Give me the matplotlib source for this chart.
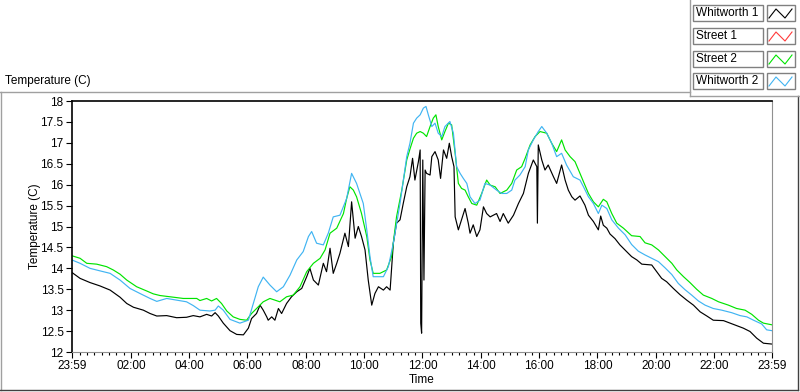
import numpy as np
import matplotlib
matplotlib.use('Agg')
import matplotlib.pyplot as plt
from matplotlib.lines import Line2D
from matplotlib.patches import Rectangle

plt.rcParams['font.family'] = ['Liberation Sans', 'DejaVu Sans']

W, H = 800, 392

series_names = ['Whitworth 1', 'Street 1', 'Street 2', 'Whitworth 2']
series_colors = ['#000000', '#ff3a3a', '#00e400', '#40b4f2']

# times are hours after midnight, the trace starts at 23:59 (-1 min)
whitworth1_t = [-0.017, 0.26, 0.60, 0.94, 1.29, 1.63, 1.86, 2.09, 2.43, 2.66, 2.89, 3.23, 3.57, 3.91,
                4.14, 4.37, 4.60, 4.77, 4.89, 5.00, 5.17, 5.40, 5.63,
                5.86, 6.03, 6.14, 6.31, 6.43, 6.54, 6.66, 6.71, 6.83, 6.94, 7.06, 7.17, 7.34, 7.51,
                7.69, 7.86, 8.03, 8.14, 8.26, 8.43, 8.60, 8.71, 8.83, 8.94, 9.06, 9.17, 9.34, 9.46,
                9.57, 9.69, 9.80, 9.91, 10.03, 10.14, 10.26, 10.37, 10.49, 10.66, 10.77, 10.89,
                11.00, 11.11, 11.23,
                11.34, 11.46, 11.57, 11.66, 11.74, 11.86, 11.92, 11.94, 11.97, 12.01, 12.05, 12.09,
                12.14, 12.26, 12.32, 12.43, 12.54, 12.62, 12.72, 12.83, 12.92, 13.00, 13.08, 13.12,
                13.23, 13.34, 13.46, 13.57, 13.63, 13.74, 13.86, 13.97, 14.09, 14.20, 14.32, 14.54,
                14.66, 14.77, 14.94, 15.12, 15.29, 15.46, 15.63, 15.80, 15.92, 15.94, 15.97, 16.09,
                16.20, 16.31, 16.49, 16.60, 16.77, 16.89, 17.00, 17.12, 17.23, 17.40,
                17.57, 17.69, 17.86, 18.03, 18.11, 18.20, 18.32, 18.43, 18.60, 18.77, 19.00, 19.17,
                19.35, 19.52, 19.86, 20.03, 20.20, 20.37, 20.60, 20.83, 21.06, 21.29, 21.52, 21.75,
                21.97, 22.32, 22.55, 22.77, 23.00, 23.23, 23.46, 23.69, 23.98]
whitworth1_c = [13.90, 13.76, 13.66, 13.58, 13.48, 13.31, 13.16, 13.07, 13.00, 12.92, 12.86, 12.87, 12.82, 12.83,
                12.87, 12.84, 12.90, 12.86, 12.94, 12.86, 12.69, 12.51, 12.42,
                12.41, 12.57, 12.80, 12.92, 13.12, 13.00, 12.84, 12.76, 12.84, 12.76, 13.04, 12.92, 13.16, 13.32,
                13.44, 13.52, 13.80, 14.00, 13.72, 13.60, 14.12, 13.92, 14.48, 13.88, 14.12, 14.36, 14.84, 14.52,
                15.59, 14.72, 15.00, 14.76, 14.44, 13.72, 13.12, 13.40, 13.56, 13.48, 13.56, 13.48,
                14.60, 15.08, 15.16,
                15.55, 15.95, 16.19, 16.63, 16.11, 16.55, 16.83, 12.69, 12.45, 16.59, 13.72, 16.35,
                16.27, 16.23, 16.67, 16.79, 16.59, 16.15, 16.83, 16.63, 16.99, 16.67, 16.43, 15.23,
                14.92, 15.16, 15.43, 15.08, 14.84, 15.04, 14.76, 14.92, 15.47, 15.31, 15.23, 15.31,
                15.12, 15.31, 15.08, 15.27, 15.55, 15.79, 16.27, 16.59, 16.43, 15.08, 16.95, 16.59,
                16.35, 16.47, 16.19, 16.03, 16.47, 16.11, 15.87, 15.71, 15.63, 15.73,
                15.51, 15.27, 15.12, 14.92, 15.25, 15.03, 14.96, 14.82, 14.71, 14.56, 14.40, 14.28,
                14.20, 14.10, 14.08, 13.92, 13.76, 13.68, 13.52, 13.37, 13.24, 13.12, 12.96, 12.86,
                12.76, 12.75, 12.69, 12.63, 12.57, 12.49, 12.33, 12.21, 12.19]

# Street 1 shows in the legend but no trace is visible
street1_t = []
street1_c = []

street2_t = [-0.017, 0.26, 0.49, 0.83, 1.17, 1.40, 1.63, 1.86, 2.20, 2.54, 2.77, 3.00, 3.46, 3.80,
             4.26, 4.37, 4.60, 4.77, 4.94, 5.11, 5.29, 5.51, 5.74,
             5.97, 6.14, 6.54, 6.77, 7.11, 7.34, 7.57, 7.80, 8.03, 8.26, 8.49, 8.66, 8.83, 9.06,
             9.29, 9.40, 9.51, 9.63, 9.74, 9.91, 10.09, 10.20, 10.31, 10.54, 10.77, 10.94, 11.11,
             11.29, 11.46,
             11.57, 11.69, 11.80, 11.92, 12.03, 12.14, 12.26, 12.37, 12.46, 12.54, 12.66, 12.77,
             12.89, 13.00, 13.12, 13.23, 13.34, 13.46, 13.57, 13.69, 13.86, 14.03, 14.20, 14.32,
             14.49, 14.66, 14.89, 15.06, 15.23, 15.40, 15.52, 15.69, 15.86, 16.03, 16.26, 16.43,
             16.60, 16.77, 16.89, 17.06, 17.23, 17.40,
             17.52, 17.69, 17.86, 18.03, 18.20, 18.32, 18.49, 18.66, 18.89, 19.17, 19.46, 19.63,
             19.86, 20.09, 20.32, 20.55, 20.72, 20.95, 21.17, 21.40, 21.63, 21.92, 22.15, 22.49,
             22.77, 23.06, 23.29, 23.52, 23.69, 23.98]
street2_c = [14.30, 14.24, 14.12, 14.10, 14.04, 13.96, 13.86, 13.72, 13.56, 13.46, 13.39, 13.35, 13.31, 13.28,
             13.28, 13.23, 13.28, 13.22, 13.28, 13.16, 12.98, 12.84, 12.78,
             12.76, 12.92, 13.20, 13.28, 13.20, 13.32, 13.36, 13.56, 13.92, 14.12, 14.24, 14.44, 14.84, 14.96,
             15.31, 15.67, 15.95, 15.87, 15.71, 15.31, 14.76, 14.20, 13.88, 13.88, 13.96, 14.28, 15.23,
             15.87, 16.59,
             16.85, 17.11, 17.23, 17.27, 17.23, 17.15, 17.39, 17.59, 17.67, 17.39, 17.07, 17.27,
             17.47, 17.43, 16.75, 16.03, 15.91, 15.87, 15.71, 15.55, 15.51, 15.79, 16.11, 15.99,
             15.95, 15.79, 15.87, 16.03, 16.35, 16.43, 16.63, 16.95, 17.15, 17.27, 17.23, 16.99,
             16.79, 17.07, 16.83, 16.67, 16.55, 16.27,
             16.07, 15.79, 15.59, 15.47, 15.65, 15.59, 15.31, 15.08, 14.96, 14.78, 14.76, 14.61,
             14.56, 14.44, 14.28, 14.12, 13.96, 13.80, 13.66, 13.50, 13.36, 13.28, 13.20, 13.12,
             13.04, 13.00, 12.90, 12.76, 12.69, 12.65]

whitworth2_t = [-0.017, 0.26, 0.60, 0.94, 1.29, 1.63, 1.97, 2.31, 2.66, 2.89, 3.23, 3.57, 3.91, 4.14,
                4.37, 4.71, 4.89, 5.00, 5.17, 5.40, 5.74,
                6.03, 6.20, 6.37, 6.54, 6.77, 7.00, 7.23, 7.46, 7.69, 7.91, 8.09, 8.20, 8.37, 8.60,
                8.77, 8.94, 9.17, 9.40, 9.57, 9.74, 9.97, 10.09, 10.20, 10.31, 10.66, 10.83, 11.00,
                11.23, 11.46, 11.57,
                11.69, 11.80, 11.92, 12.03, 12.12, 12.20, 12.32, 12.43, 12.54, 12.66, 12.77, 12.94,
                13.06, 13.17, 13.29, 13.40, 13.52, 13.63, 13.80, 13.97, 14.14, 14.32, 14.54, 14.72,
                14.89, 15.06, 15.17, 15.34, 15.52, 15.63, 15.80, 15.97, 16.09, 16.26, 16.43, 16.60,
                16.77, 16.94, 17.17, 17.40,
                17.52, 17.69, 17.86, 18.03, 18.15, 18.32, 18.49, 18.72, 18.95, 19.17, 19.40, 19.63,
                19.86, 20.09, 20.32, 20.55, 20.77, 21.00, 21.23, 21.46, 21.69, 21.97, 22.26, 22.60,
                22.89, 23.12, 23.35, 23.63, 23.80, 23.98]
whitworth2_c = [14.20, 14.12, 14.00, 13.94, 13.88, 13.72, 13.52, 13.40, 13.28, 13.21, 13.28, 13.24, 13.20, 13.11,
                13.00, 12.98, 13.00, 13.10, 13.00, 12.78, 12.69,
                12.76, 13.16, 13.56, 13.79, 13.60, 13.44, 13.56, 13.84, 14.20, 14.40, 14.76, 14.88, 14.60, 14.56,
                14.84, 15.23, 15.27, 15.67, 16.27, 16.03, 15.55, 14.92, 14.28, 13.80, 13.80, 14.04, 14.60,
                15.55, 16.67, 16.99,
                17.47, 17.59, 17.67, 17.83, 17.87, 17.67, 17.39, 17.47, 17.23, 17.15, 17.39, 17.51,
                17.23, 16.43, 16.27, 16.15, 16.03, 15.71, 15.55, 15.63, 16.03, 15.99, 15.87, 15.79,
                15.79, 15.87, 16.11, 16.23, 16.43, 16.83, 17.07, 17.27, 17.39, 17.23, 16.99, 16.67,
                16.75, 16.47, 16.19, 16.11,
                15.95, 15.71, 15.55, 15.31, 15.51, 15.43, 15.16, 14.96, 14.80, 14.57, 14.41, 14.32,
                14.24, 14.16, 14.01, 13.85, 13.64, 13.49, 13.36, 13.22, 13.12, 13.04, 13.00, 12.94,
                12.87, 12.84, 12.76, 12.67, 12.53, 12.51]

series_t = [whitworth1_t, street1_t, street2_t, whitworth2_t]
series_c = [whitworth1_c, street1_c, street2_c, whitworth2_c]

x_ticks = [-1 / 60, 2, 4, 6, 8, 10, 12, 14, 16, 18, 20, 22, 24 - 1 / 60]
x_labels = ['23:59', '02:00', '04:00', '06:00', '08:00', '10:00', '12:00',
            '14:00', '16:00', '18:00', '20:00', '22:00', '23:59']
y_ticks = [12, 12.5, 13, 13.5, 14, 14.5, 15, 15.5, 16, 16.5, 17, 17.5, 18]


def px(x, y):
    return x / W, 1 - y / H


fig = plt.figure(figsize=(W / 100, H / 100), dpi=100, facecolor='white')
ax = fig.add_axes([72 / W, 1 - 352 / H, 700 / W, 251 / H])

for t, c, col in zip(series_t, series_c, series_colors):
    ax.plot(t, c, color=col, lw=0.85)

ax.set_xlim(x_ticks[0], x_ticks[-1])
ax.set_ylim(12, 18)
ax.set_xticks(x_ticks)
ax.set_xticklabels(x_labels)
ax.set_xticks(np.arange(0.25, 24, 0.25), minor=True)
ax.set_yticks(y_ticks)
ax.set_yticklabels(['%g' % v for v in y_ticks])
ax.tick_params(axis='both', which='major', direction='out', length=4, width=0.8,
               labelsize=8.5, pad=2)
ax.tick_params(axis='x', which='minor', direction='out', length=2.5, width=0.8)
ax.spines['left'].set_color('black')
ax.spines['top'].set_color('black')
ax.spines['left'].set_linewidth(1.2)
ax.spines['top'].set_linewidth(1.2)
ax.spines['right'].set_color('#909090')
ax.spines['bottom'].set_color('#909090')
ax.set_xlabel('Time', fontsize=8.5, labelpad=1)
ax.set_ylabel('Temperature (C)', fontsize=8.5, labelpad=0)

# panel frame around the graph
fig.add_artist(Line2D([px(0, 92)[0], px(690, 92)[0]], [px(0, 92)[1]] * 2, color='#a0a0a0', lw=1))
fig.add_artist(Line2D([px(1, 92)[0]] * 2, [px(1, 92)[1], px(1, 390)[1]], color='#a0a0a0', lw=1))
fig.add_artist(Line2D([px(0, 390)[0], px(798, 390)[0]], [px(0, 390)[1]] * 2, color='#404040', lw=1))
fig.add_artist(Line2D([px(798, 96)[0]] * 2, [px(798, 96)[1], px(798, 390)[1]], color='#404040', lw=1))
fig.text(px(5, 81)[0], px(5, 81)[1], 'Temperature (C)', fontsize=8.5, va='center', ha='left')

# legend panel
fig.add_artist(Line2D([px(690, 0)[0]] * 2, [px(690, 0)[1], px(690, 96)[1]], color='#a0a0a0', lw=1))
fig.add_artist(Line2D([px(690, 96)[0], px(800, 96)[0]], [px(690, 96)[1]] * 2, color='#a0a0a0', lw=1))
row_tops = [5, 28, 51, 73]
for top, name, col in zip(row_tops, series_names, series_colors):
    x0, y0 = px(693, top + 16)
    fig.add_artist(Rectangle((x0, y0), 70 / W, 16 / H, facecolor='white',
                             edgecolor='#808080', lw=1, transform=fig.transFigure))
    fig.text(px(696, 0)[0], px(0, top + 8)[1], name, fontsize=8.5, va='center', ha='left')
    sx, sy = px(767, top + 16)
    fig.add_artist(Rectangle((sx, sy), 28 / W, 16 / H, facecolor='white',
                             edgecolor='#808080', lw=1, transform=fig.transFigure))
    zx = [769, 776, 785, 792]
    zy = [top + 13, top + 4, top + 13, top + 4]
    fig.add_artist(Line2D([px(v, 0)[0] for v in zx], [px(0, v)[1] for v in zy],
                          color=col, lw=0.8))

fig.savefig('out.png', dpi=100, facecolor='white')
